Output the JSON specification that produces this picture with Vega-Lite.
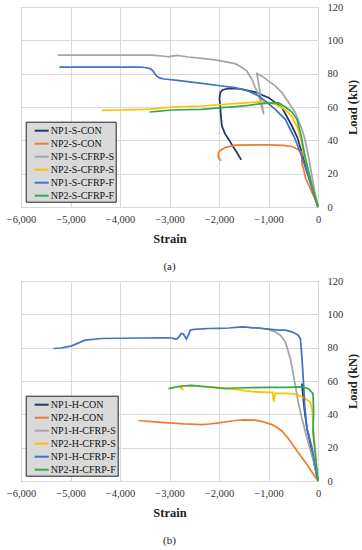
{
"$schema": "https://vega.github.io/schema/vega-lite/v6.json",
"background": "white",
"padding": {"left": 5, "top": 1, "right": 2, "bottom": 2},
"spacing": 2,
"config": {
  "font": "Liberation Serif, Times New Roman, serif",
  "view": {"stroke": "#808080", "strokeWidth": 1},
  "axis": {"gridColor": "#d9d9d9", "gridWidth": 1, "domain": false, "ticks": false, "tickSize": 0, "labelFont": "Liberation Serif, Times New Roman, serif", "labelFontSize": 10.5, "labelColor": "#333333", "titleFont": "Liberation Serif, Times New Roman, serif", "titleFontWeight": "bold", "titleFontSize": 12.5, "titleColor": "#222222"},
  "legend": {"orient": "none", "legendX": 4.7, "legendY": 114.7, "fillColor": "#d9d9d9", "strokeColor": "#222222", "padding": 1, "symbolType": "stroke", "symbolSize": 196, "symbolStrokeWidth": 2, "symbolOffset": 7, "labelOffset": 1, "labelFont": "Liberation Serif, Times New Roman, serif", "labelFontSize": 10, "labelColor": "#111111", "rowPadding": 0}
},
"datasets": {
"a": [
{"s":"NP1-S-CON","i":0,"x":0,"y":0},{"s":"NP1-S-CON","i":1,"x":-150,"y":15},{"s":"NP1-S-CON","i":2,"x":-300,"y":30},{"s":"NP1-S-CON","i":3,"x":-420,"y":42},{"s":"NP1-S-CON","i":4,"x":-526,"y":48.6},{"s":"NP1-S-CON","i":5,"x":-728,"y":59.6},{"s":"NP1-S-CON","i":6,"x":-998,"y":65.6},{"s":"NP1-S-CON","i":7,"x":-1268,"y":68.9},{"s":"NP1-S-CON","i":8,"x":-1550,"y":70.8},{"s":"NP1-S-CON","i":9,"x":-1806,"y":71.1},{"s":"NP1-S-CON","i":10,"x":-1930,"y":70.2},{"s":"NP1-S-CON","i":11,"x":-1975,"y":68.6},{"s":"NP1-S-CON","i":12,"x":-1990,"y":65},{"s":"NP1-S-CON","i":13,"x":-1975,"y":60.6},{"s":"NP1-S-CON","i":14,"x":-1960,"y":54},{"s":"NP1-S-CON","i":15,"x":-1941,"y":48.6},{"s":"NP1-S-CON","i":16,"x":-1880,"y":44},{"s":"NP1-S-CON","i":17,"x":-1806,"y":40.7},{"s":"NP1-S-CON","i":18,"x":-1720,"y":36.5},{"s":"NP1-S-CON","i":19,"x":-1638,"y":32.7},{"s":"NP1-S-CON","i":20,"x":-1551,"y":28.3},
{"s":"NP2-S-CON","i":0,"x":0,"y":0},{"s":"NP2-S-CON","i":1,"x":-20,"y":1.8},{"s":"NP2-S-CON","i":2,"x":-121,"y":8.8},{"s":"NP2-S-CON","i":3,"x":-257,"y":17.8},{"s":"NP2-S-CON","i":4,"x":-290,"y":22.7},{"s":"NP2-S-CON","i":5,"x":-324,"y":25.7},{"s":"NP2-S-CON","i":6,"x":-326,"y":29},{"s":"NP2-S-CON","i":7,"x":-324,"y":32.7},{"s":"NP2-S-CON","i":8,"x":-392,"y":34.3},{"s":"NP2-S-CON","i":9,"x":-526,"y":36.3},{"s":"NP2-S-CON","i":10,"x":-700,"y":37},{"s":"NP2-S-CON","i":11,"x":-998,"y":37.3},{"s":"NP2-S-CON","i":12,"x":-1300,"y":37.3},{"s":"NP2-S-CON","i":13,"x":-1672,"y":37.1},{"s":"NP2-S-CON","i":14,"x":-1874,"y":35.7},{"s":"NP2-S-CON","i":15,"x":-1960,"y":34.2},{"s":"NP2-S-CON","i":16,"x":-2009,"y":32.7},{"s":"NP2-S-CON","i":17,"x":-2015,"y":31},{"s":"NP2-S-CON","i":18,"x":-2009,"y":29.7},{"s":"NP2-S-CON","i":19,"x":-1962,"y":27.7},
{"s":"NP1-S-CFRP-S","i":0,"x":0,"y":0},{"s":"NP1-S-CFRP-S","i":1,"x":-90,"y":13},{"s":"NP1-S-CFRP-S","i":2,"x":-190,"y":30},{"s":"NP1-S-CFRP-S","i":3,"x":-260,"y":40},{"s":"NP1-S-CFRP-S","i":4,"x":-324,"y":46.6},{"s":"NP1-S-CFRP-S","i":5,"x":-459,"y":56.6},{"s":"NP1-S-CFRP-S","i":6,"x":-600,"y":63},{"s":"NP1-S-CFRP-S","i":7,"x":-728,"y":68.6},{"s":"NP1-S-CFRP-S","i":8,"x":-860,"y":72.5},{"s":"NP1-S-CFRP-S","i":9,"x":-998,"y":75.5},{"s":"NP1-S-CFRP-S","i":10,"x":-1130,"y":78.5},{"s":"NP1-S-CFRP-S","i":11,"x":-1234,"y":80.1},{"s":"NP1-S-CFRP-S","i":12,"x":-1098,"y":55.6},{"s":"NP1-S-CFRP-S","i":13,"x":-1200,"y":67.6},{"s":"NP1-S-CFRP-S","i":14,"x":-1268,"y":71.6},{"s":"NP1-S-CFRP-S","i":15,"x":-1334,"y":76.5},{"s":"NP1-S-CFRP-S","i":16,"x":-1436,"y":81.5},{"s":"NP1-S-CFRP-S","i":17,"x":-1550,"y":84},{"s":"NP1-S-CFRP-S","i":18,"x":-1672,"y":86},{"s":"NP1-S-CFRP-S","i":19,"x":-2076,"y":88.3},{"s":"NP1-S-CFRP-S","i":20,"x":-2346,"y":89.2},{"s":"NP1-S-CFRP-S","i":21,"x":-2616,"y":90},{"s":"NP1-S-CFRP-S","i":22,"x":-2851,"y":90.9},{"s":"NP1-S-CFRP-S","i":23,"x":-2950,"y":90.5},{"s":"NP1-S-CFRP-S","i":24,"x":-3020,"y":90.1},{"s":"NP1-S-CFRP-S","i":25,"x":-3150,"y":90.6},{"s":"NP1-S-CFRP-S","i":26,"x":-3357,"y":91.1},{"s":"NP1-S-CFRP-S","i":27,"x":-4000,"y":91.1},{"s":"NP1-S-CFRP-S","i":28,"x":-5258,"y":91.1},
{"s":"NP2-S-CFRP-S","i":0,"x":0,"y":0},{"s":"NP2-S-CFRP-S","i":1,"x":-140,"y":15},{"s":"NP2-S-CFRP-S","i":2,"x":-270,"y":30},{"s":"NP2-S-CFRP-S","i":3,"x":-340,"y":40},{"s":"NP2-S-CFRP-S","i":4,"x":-420,"y":48},{"s":"NP2-S-CFRP-S","i":5,"x":-520,"y":54},{"s":"NP2-S-CFRP-S","i":6,"x":-594,"y":56.5},{"s":"NP2-S-CFRP-S","i":7,"x":-720,"y":59.5},{"s":"NP2-S-CFRP-S","i":8,"x":-864,"y":61.6},{"s":"NP2-S-CFRP-S","i":9,"x":-1000,"y":62.8},{"s":"NP2-S-CFRP-S","i":10,"x":-1200,"y":63},{"s":"NP2-S-CFRP-S","i":11,"x":-1400,"y":62.6},{"s":"NP2-S-CFRP-S","i":12,"x":-1672,"y":62},{"s":"NP2-S-CFRP-S","i":13,"x":-1941,"y":61.5},{"s":"NP2-S-CFRP-S","i":14,"x":-2346,"y":60.6},{"s":"NP2-S-CFRP-S","i":15,"x":-2953,"y":60},{"s":"NP2-S-CFRP-S","i":16,"x":-3425,"y":58.6},{"s":"NP2-S-CFRP-S","i":17,"x":-4000,"y":58.2},{"s":"NP2-S-CFRP-S","i":18,"x":-4369,"y":58},
{"s":"NP1-S-CFRP-F","i":0,"x":0,"y":0},{"s":"NP1-S-CFRP-F","i":1,"x":-150,"y":14},{"s":"NP1-S-CFRP-F","i":2,"x":-324,"y":30},{"s":"NP1-S-CFRP-F","i":3,"x":-480,"y":42},{"s":"NP1-S-CFRP-F","i":4,"x":-594,"y":48.6},{"s":"NP1-S-CFRP-F","i":5,"x":-661,"y":52.6},{"s":"NP1-S-CFRP-F","i":6,"x":-864,"y":58.6},{"s":"NP1-S-CFRP-F","i":7,"x":-1000,"y":62},{"s":"NP1-S-CFRP-F","i":8,"x":-1200,"y":66.6},{"s":"NP1-S-CFRP-F","i":9,"x":-1400,"y":69.5},{"s":"NP1-S-CFRP-F","i":10,"x":-1672,"y":71.6},{"s":"NP1-S-CFRP-F","i":11,"x":-1941,"y":72.6},{"s":"NP1-S-CFRP-F","i":12,"x":-2346,"y":74.2},{"s":"NP1-S-CFRP-F","i":13,"x":-2800,"y":75.8},{"s":"NP1-S-CFRP-F","i":14,"x":-3100,"y":76.8},{"s":"NP1-S-CFRP-F","i":15,"x":-3189,"y":77.3},{"s":"NP1-S-CFRP-F","i":16,"x":-3260,"y":78.5},{"s":"NP1-S-CFRP-F","i":17,"x":-3330,"y":81.5},{"s":"NP1-S-CFRP-F","i":18,"x":-3391,"y":83},{"s":"NP1-S-CFRP-F","i":19,"x":-3500,"y":83.7},{"s":"NP1-S-CFRP-F","i":20,"x":-3593,"y":83.9},{"s":"NP1-S-CFRP-F","i":21,"x":-4500,"y":83.9},{"s":"NP1-S-CFRP-F","i":22,"x":-5224,"y":83.9},
{"s":"NP2-S-CFRP-F","i":0,"x":0,"y":0},{"s":"NP2-S-CFRP-F","i":1,"x":-140,"y":15},{"s":"NP2-S-CFRP-F","i":2,"x":-260,"y":30},{"s":"NP2-S-CFRP-F","i":3,"x":-340,"y":42.7},{"s":"NP2-S-CFRP-F","i":4,"x":-425,"y":52.6},{"s":"NP2-S-CFRP-F","i":5,"x":-526,"y":57},{"s":"NP2-S-CFRP-F","i":6,"x":-661,"y":60},{"s":"NP2-S-CFRP-F","i":7,"x":-796,"y":62.6},{"s":"NP2-S-CFRP-F","i":8,"x":-950,"y":62.3},{"s":"NP2-S-CFRP-F","i":9,"x":-1133,"y":62},{"s":"NP2-S-CFRP-F","i":10,"x":-1400,"y":61},{"s":"NP2-S-CFRP-F","i":11,"x":-1672,"y":60.2},{"s":"NP2-S-CFRP-F","i":12,"x":-1941,"y":59.6},{"s":"NP2-S-CFRP-F","i":13,"x":-2346,"y":58.6},{"s":"NP2-S-CFRP-F","i":14,"x":-2953,"y":58.2},{"s":"NP2-S-CFRP-F","i":15,"x":-3200,"y":57.5},{"s":"NP2-S-CFRP-F","i":16,"x":-3405,"y":57}
],
"b": [
{"s":"NP1-H-CON","i":0,"x":0,"y":0},{"s":"NP1-H-CON","i":1,"x":-60,"y":8},{"s":"NP1-H-CON","i":2,"x":-121,"y":17.3},{"s":"NP1-H-CON","i":3,"x":-180,"y":26},{"s":"NP1-H-CON","i":4,"x":-222,"y":31.3},{"s":"NP1-H-CON","i":5,"x":-269,"y":41.4},{"s":"NP1-H-CON","i":6,"x":-303,"y":51.4},{"s":"NP1-H-CON","i":7,"x":-318,"y":56},{"s":"NP1-H-CON","i":8,"x":-325,"y":58.5},
{"s":"NP2-H-CON","i":0,"x":0,"y":0},{"s":"NP2-H-CON","i":1,"x":-256,"y":11.3},{"s":"NP2-H-CON","i":2,"x":-459,"y":19.5},{"s":"NP2-H-CON","i":3,"x":-600,"y":25.5},{"s":"NP2-H-CON","i":4,"x":-728,"y":30},{"s":"NP2-H-CON","i":5,"x":-850,"y":32.5},{"s":"NP2-H-CON","i":6,"x":-930,"y":33.8},{"s":"NP2-H-CON","i":7,"x":-1100,"y":35.5},{"s":"NP2-H-CON","i":8,"x":-1267,"y":36.5},{"s":"NP2-H-CON","i":9,"x":-1500,"y":36.6},{"s":"NP2-H-CON","i":10,"x":-1672,"y":36.3},{"s":"NP2-H-CON","i":11,"x":-2009,"y":34.9},{"s":"NP2-H-CON","i":12,"x":-2200,"y":34.2},{"s":"NP2-H-CON","i":13,"x":-2346,"y":33.9},{"s":"NP2-H-CON","i":14,"x":-2700,"y":34.3},{"s":"NP2-H-CON","i":15,"x":-3021,"y":34.9},{"s":"NP2-H-CON","i":16,"x":-3300,"y":35.5},{"s":"NP2-H-CON","i":17,"x":-3627,"y":36.3},
{"s":"NP1-H-CFRP-S","i":0,"x":0,"y":0},{"s":"NP1-H-CFRP-S","i":1,"x":-90,"y":12},{"s":"NP1-H-CFRP-S","i":2,"x":-189,"y":22},{"s":"NP1-H-CFRP-S","i":3,"x":-260,"y":30},{"s":"NP1-H-CFRP-S","i":4,"x":-324,"y":37.3},{"s":"NP1-H-CFRP-S","i":5,"x":-400,"y":47.4},{"s":"NP1-H-CFRP-S","i":6,"x":-459,"y":57.4},{"s":"NP1-H-CFRP-S","i":7,"x":-510,"y":66},{"s":"NP1-H-CFRP-S","i":8,"x":-560,"y":73.5},{"s":"NP1-H-CFRP-S","i":9,"x":-620,"y":79.5},{"s":"NP1-H-CFRP-S","i":10,"x":-661,"y":83.5},{"s":"NP1-H-CFRP-S","i":11,"x":-760,"y":87.5},{"s":"NP1-H-CFRP-S","i":12,"x":-863,"y":89.5},{"s":"NP1-H-CFRP-S","i":13,"x":-1000,"y":91},{"s":"NP1-H-CFRP-S","i":14,"x":-1133,"y":91.5},{"s":"NP1-H-CFRP-S","i":15,"x":-1250,"y":91.8},
{"s":"NP2-H-CFRP-S","i":0,"x":0,"y":0},{"s":"NP2-H-CFRP-S","i":1,"x":-30,"y":8},{"s":"NP2-H-CFRP-S","i":2,"x":-54,"y":17.3},{"s":"NP2-H-CFRP-S","i":3,"x":-90,"y":30},{"s":"NP2-H-CFRP-S","i":4,"x":-121,"y":43.4},{"s":"NP2-H-CFRP-S","i":5,"x":-155,"y":47.4},{"s":"NP2-H-CFRP-S","i":6,"x":-256,"y":49.4},{"s":"NP2-H-CFRP-S","i":7,"x":-400,"y":51.5},{"s":"NP2-H-CFRP-S","i":8,"x":-526,"y":52.4},{"s":"NP2-H-CFRP-S","i":9,"x":-700,"y":52.6},{"s":"NP2-H-CFRP-S","i":10,"x":-860,"y":52.6},{"s":"NP2-H-CFRP-S","i":11,"x":-882,"y":50},{"s":"NP2-H-CFRP-S","i":12,"x":-896,"y":47.7},{"s":"NP2-H-CFRP-S","i":13,"x":-906,"y":50.5},{"s":"NP2-H-CFRP-S","i":14,"x":-915,"y":53.2},{"s":"NP2-H-CFRP-S","i":15,"x":-1000,"y":53.2},{"s":"NP2-H-CFRP-S","i":16,"x":-1335,"y":53.6},{"s":"NP2-H-CFRP-S","i":17,"x":-1672,"y":55},{"s":"NP2-H-CFRP-S","i":18,"x":-2000,"y":56},{"s":"NP2-H-CFRP-S","i":19,"x":-2346,"y":56.8},{"s":"NP2-H-CFRP-S","i":20,"x":-2600,"y":57.2},{"s":"NP2-H-CFRP-S","i":21,"x":-2800,"y":56.5},{"s":"NP2-H-CFRP-S","i":22,"x":-2740,"y":55.2},{"s":"NP2-H-CFRP-S","i":23,"x":-2720,"y":54.5},
{"s":"NP1-H-CFRP-F","i":0,"x":0,"y":0},{"s":"NP1-H-CFRP-F","i":1,"x":-121,"y":20},{"s":"NP1-H-CFRP-F","i":2,"x":-222,"y":31.3},{"s":"NP1-H-CFRP-F","i":3,"x":-269,"y":45.3},{"s":"NP1-H-CFRP-F","i":4,"x":-290,"y":57.4},{"s":"NP1-H-CFRP-F","i":5,"x":-310,"y":67.4},{"s":"NP1-H-CFRP-F","i":6,"x":-324,"y":73.5},{"s":"NP1-H-CFRP-F","i":7,"x":-340,"y":80},{"s":"NP1-H-CFRP-F","i":8,"x":-358,"y":85.5},{"s":"NP1-H-CFRP-F","i":9,"x":-400,"y":87.5},{"s":"NP1-H-CFRP-F","i":10,"x":-459,"y":88.5},{"s":"NP1-H-CFRP-F","i":11,"x":-526,"y":89.5},{"s":"NP1-H-CFRP-F","i":12,"x":-661,"y":90.5},{"s":"NP1-H-CFRP-F","i":13,"x":-800,"y":90.5},{"s":"NP1-H-CFRP-F","i":14,"x":-998,"y":91.1},{"s":"NP1-H-CFRP-F","i":15,"x":-1200,"y":91.8},{"s":"NP1-H-CFRP-F","i":16,"x":-1335,"y":91.9},{"s":"NP1-H-CFRP-F","i":17,"x":-1436,"y":92.3},{"s":"NP1-H-CFRP-F","i":18,"x":-1537,"y":92.4},{"s":"NP1-H-CFRP-F","i":19,"x":-1800,"y":91.8},{"s":"NP1-H-CFRP-F","i":20,"x":-2000,"y":91.6},{"s":"NP1-H-CFRP-F","i":21,"x":-2211,"y":91.5},{"s":"NP1-H-CFRP-F","i":22,"x":-2500,"y":91},{"s":"NP1-H-CFRP-F","i":23,"x":-2582,"y":90.6},{"s":"NP1-H-CFRP-F","i":24,"x":-2610,"y":88},{"s":"NP1-H-CFRP-F","i":25,"x":-2660,"y":85.2},{"s":"NP1-H-CFRP-F","i":26,"x":-2684,"y":86.5},{"s":"NP1-H-CFRP-F","i":27,"x":-2720,"y":88.2},{"s":"NP1-H-CFRP-F","i":28,"x":-2765,"y":88.5},{"s":"NP1-H-CFRP-F","i":29,"x":-2810,"y":86.5},{"s":"NP1-H-CFRP-F","i":30,"x":-2850,"y":85.3},{"s":"NP1-H-CFRP-F","i":31,"x":-2886,"y":85.2},{"s":"NP1-H-CFRP-F","i":32,"x":-2950,"y":85.8},{"s":"NP1-H-CFRP-F","i":33,"x":-3088,"y":85.9},{"s":"NP1-H-CFRP-F","i":34,"x":-3600,"y":85.8},{"s":"NP1-H-CFRP-F","i":35,"x":-4369,"y":85.5},{"s":"NP1-H-CFRP-F","i":36,"x":-4706,"y":84.5},{"s":"NP1-H-CFRP-F","i":37,"x":-4975,"y":81.1},{"s":"NP1-H-CFRP-F","i":38,"x":-5200,"y":79.8},{"s":"NP1-H-CFRP-F","i":39,"x":-5346,"y":79.5},
{"s":"NP2-H-CFRP-F","i":0,"x":0,"y":0},{"s":"NP2-H-CFRP-F","i":1,"x":-50,"y":15},{"s":"NP2-H-CFRP-F","i":2,"x":-101,"y":29.3},{"s":"NP2-H-CFRP-F","i":3,"x":-88,"y":41.4},{"s":"NP2-H-CFRP-F","i":4,"x":-101,"y":52.4},{"s":"NP2-H-CFRP-F","i":5,"x":-189,"y":55.4},{"s":"NP2-H-CFRP-F","i":6,"x":-324,"y":56.4},{"s":"NP2-H-CFRP-F","i":7,"x":-600,"y":56.2},{"s":"NP2-H-CFRP-F","i":8,"x":-998,"y":56.2},{"s":"NP2-H-CFRP-F","i":9,"x":-1300,"y":56},{"s":"NP2-H-CFRP-F","i":10,"x":-1672,"y":55.8},{"s":"NP2-H-CFRP-F","i":11,"x":-1874,"y":55.4},{"s":"NP2-H-CFRP-F","i":12,"x":-2211,"y":56.4},{"s":"NP2-H-CFRP-F","i":13,"x":-2548,"y":57.4},{"s":"NP2-H-CFRP-F","i":14,"x":-2751,"y":57},{"s":"NP2-H-CFRP-F","i":15,"x":-2900,"y":56.2},{"s":"NP2-H-CFRP-F","i":16,"x":-3021,"y":55.4}
]
},
"vconcat": [
{
  "width": 297, "height": 200,
  "title": {"text": "(a)", "orient": "bottom", "fontSize": 11, "fontWeight": "normal", "font": "Liberation Serif, Times New Roman, serif", "color": "#222222", "offset": 16},
  "data": {"name": "a"},
  "mark": {"type": "line", "strokeWidth": 1.75},
  "encoding": {
    "x": {"field": "x", "type": "quantitative", "scale": {"domain": [-6000, 0], "nice": false}, "axis": {"values": [-6000, -5000, -4000, -3000, -2000, -1000, 0], "format": ",.0f", "title": "Strain", "labelPadding": 7, "titlePadding": 8, "labelFlush": false}},
    "y": {"field": "y", "type": "quantitative", "scale": {"domain": [0, 120], "nice": false}, "axis": {"orient": "right", "values": [0, 20, 40, 60, 80, 100, 120], "title": "Load (kN)", "titleAngle": 270, "titleBaseline": "top", "labelPadding": 9, "titlePadding": 4, "labelFlush": false}},
    "color": {"field": "s", "type": "nominal", "scale": {"domain": ["NP1-S-CON", "NP2-S-CON", "NP1-S-CFRP-S", "NP2-S-CFRP-S", "NP1-S-CFRP-F", "NP2-S-CFRP-F"], "range": ["#1f3864", "#ed7d31", "#a5a5a5", "#ffc000", "#4472c4", "#33a853"]}, "legend": {"title": null, "labelExpr": "datum.label + '\u00a0\u00a0\u00a0'"}},
    "order": {"field": "i", "type": "quantitative"}
  }
},
{
  "width": 297, "height": 200,
  "title": {"text": "(b)", "orient": "bottom", "fontSize": 11, "fontWeight": "normal", "font": "Liberation Serif, Times New Roman, serif", "color": "#222222", "offset": 16},
  "data": {"name": "b"},
  "mark": {"type": "line", "strokeWidth": 1.75},
  "encoding": {
    "x": {"field": "x", "type": "quantitative", "scale": {"domain": [-6000, 0], "nice": false}, "axis": {"values": [-6000, -5000, -4000, -3000, -2000, -1000, 0], "format": ",.0f", "title": "Strain", "labelPadding": 7, "titlePadding": 8, "labelFlush": false}},
    "y": {"field": "y", "type": "quantitative", "scale": {"domain": [0, 120], "nice": false}, "axis": {"orient": "right", "values": [0, 20, 40, 60, 80, 100, 120], "title": "Load (kN)", "titleAngle": 270, "titleBaseline": "top", "labelPadding": 9, "titlePadding": 4, "labelFlush": false}},
    "color": {"field": "s", "type": "nominal", "scale": {"domain": ["NP1-H-CON", "NP2-H-CON", "NP1-H-CFRP-S", "NP2-H-CFRP-S", "NP1-H-CFRP-F", "NP2-H-CFRP-F"], "range": ["#1f3864", "#ed7d31", "#a5a5a5", "#ffc000", "#4472c4", "#33a853"]}, "legend": {"title": null, "labelExpr": "datum.label + '\u00a0\u00a0\u00a0'"}},
    "order": {"field": "i", "type": "quantitative"}
  }
}
],
"resolve": {"scale": {"color": "independent"}, "legend": {"color": "independent"}}
}
